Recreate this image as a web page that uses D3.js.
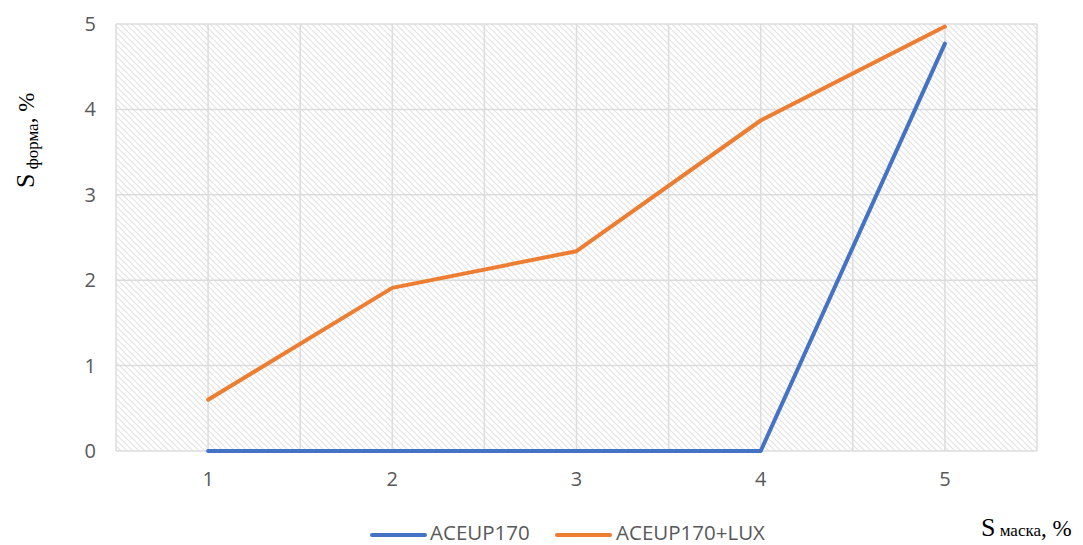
<!DOCTYPE html>
<html><head><meta charset="utf-8">
<script src="https://cdn.jsdelivr.net/npm/d3@7"></script>
<style>body{margin:0;background:#fff}svg{display:block}</style>
</head><body>
<script>
const categories = ["1","2","3","4","5"];
const seriesNames = ["ACEUP170","ACEUP170+LUX"];
const aceup170 = [0, 0, 0, 0, 4.77];
const aceup170Lux = [0.6, 1.91, 2.34, 3.87, 4.97];
const yTicks = [0,1,2,3,4,5];
const colors = ["#4472c4","#ed7d31"];

const W=1083,H=545;
const svg=d3.select("body").append("svg").attr("width",W).attr("height",H);
const L=116,R=1037,T=24,B=451;
const defs=svg.append("defs");
const pat=defs.append("pattern").attr("id","hatch").attr("patternUnits","userSpaceOnUse").attr("width",6).attr("height",6);
pat.append("path").attr("d","M-1,-1 L7,7 M-1,5 L1,7 M5,-1 L7,1").attr("stroke","#e2e2e2").attr("stroke-width",1.1);

const x=d3.scaleBand().domain(categories).range([L,R]);
const y=d3.scaleLinear().domain([0,5]).range([B,T]);

svg.append("rect").attr("x",L).attr("y",T).attr("width",R-L).attr("height",B-T).attr("fill","url(#hatch)");

svg.append("g").selectAll("line").data(yTicks).join("line")
 .attr("x1",L).attr("x2",R).attr("y1",d=>y(d)).attr("y2",d=>y(d))
 .attr("stroke","#dcdcdc").attr("stroke-width",1.5);
const vx=[];
categories.forEach(c=>{vx.push(x(c));vx.push(x(c)+x.bandwidth()/2);});
vx.push(R);
svg.append("g").selectAll("line").data(vx).join("line")
 .attr("x1",d=>d).attr("x2",d=>d).attr("y1",T).attr("y2",B)
 .attr("stroke","#dcdcdc").attr("stroke-width",1.5);

const font="'Open Sans','Liberation Sans',sans-serif";
const yAxis=d3.axisLeft(y).tickValues(yTicks).tickFormat(d3.format("d")).tickSize(0).tickPadding(20);
const gy=svg.append("g").attr("transform",`translate(${L},0)`).call(yAxis);
gy.select(".domain").remove();
gy.selectAll("text").attr("fill","#595959").style("font-family",font).style("font-size","20px");
const xAxis=d3.axisBottom(x).tickSize(0).tickPadding(21);
const gx=svg.append("g").attr("transform",`translate(0,${B})`).call(xAxis);
gx.select(".domain").remove();
gx.selectAll("text").attr("fill","#595959").style("font-family",font).style("font-size","20px");

const line=d3.line().x((d,i)=>x(categories[i])+x.bandwidth()/2).y(d=>y(d));
[aceup170,aceup170Lux].forEach((s,i)=>{
 svg.append("path").datum(s).attr("d",line).attr("fill","none").attr("stroke",colors[i])
  .attr("stroke-width",4).attr("stroke-linecap","round").attr("stroke-linejoin","round");
});

const leg=[{x:372,tx:430},{x:557,tx:616}];
seriesNames.forEach((n,i)=>{
 svg.append("line").attr("x1",leg[i].x).attr("x2",leg[i].x+53).attr("y1",535).attr("y2",535)
  .attr("stroke",colors[i]).attr("stroke-width",4).attr("stroke-linecap","round");
 svg.append("text").attr("x",leg[i].tx).attr("y",540).text(n).attr("fill","#595959")
  .style("font-family",font).style("font-size","20.5px");
});

const yt=svg.append("text").attr("transform","translate(34,188) rotate(-90)")
 .style("font-family","'Liberation Serif','Times New Roman',serif").attr("fill","#000");
yt.append("tspan").text("S").style("font-size","26px");
yt.append("tspan").text("\u00a0форма").style("font-size","17px").attr("dy",4);
yt.append("tspan").text(",\u00a0%").style("font-size","23px").attr("dy",-4);

const xt=svg.append("text").attr("x",981).attr("y",536)
 .style("font-family","'Liberation Serif','Times New Roman',serif").attr("fill","#000");
xt.append("tspan").text("S").style("font-size","26px");
xt.append("tspan").text("\u00a0маска").style("font-size","17px");
xt.append("tspan").text(",\u00a0%").style("font-size","23px");
</script>
</body></html>
